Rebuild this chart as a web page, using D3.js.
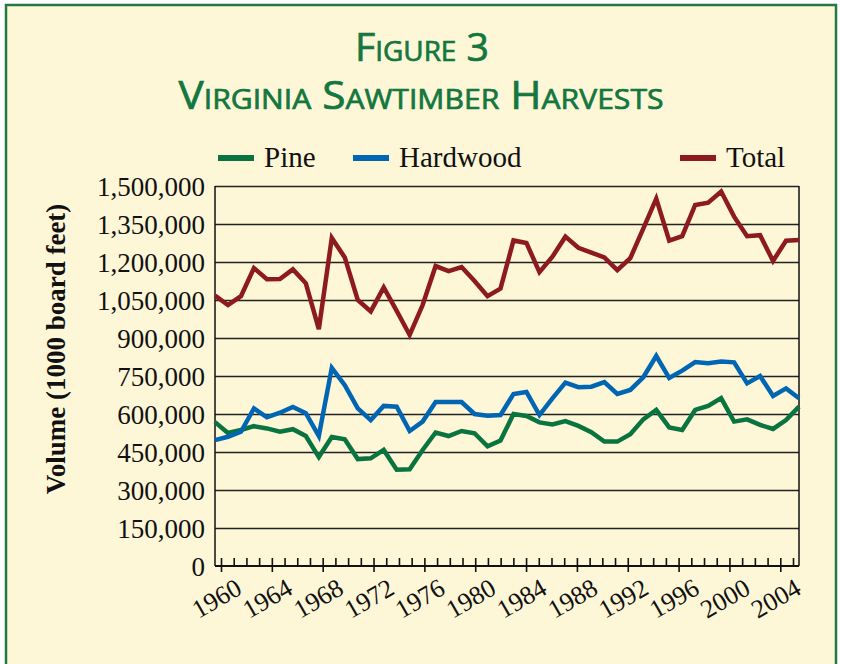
<!DOCTYPE html>
<html>
<head>
<meta charset="utf-8">
<script src="https://cdn.jsdelivr.net/npm/d3@7"></script>
<style>
  body { margin: 0; background: #fff; }
  svg { display: block; }
  .title { font-family: "Liberation Sans Narrow", "Open Sans", sans-serif; font-variant: small-caps; fill: #13773f; stroke: #13773f; stroke-width: 0.7px; }
  .axis text { font-family: "Liberation Serif", "DejaVu Serif", serif; fill: #111; }
  .legend text { font-family: "Liberation Serif", serif; font-size: 29px; fill: #111; }
</style>
</head>
<body>
<svg id="chart"></svg>
<script>
// years on the x axis
const years = [1960, 1961, 1962, 1963, 1964, 1965, 1966, 1967, 1968, 1969,
               1970, 1971, 1972, 1973, 1974, 1975, 1976, 1977, 1978, 1979,
               1980, 1981, 1982, 1983, 1984, 1985, 1986, 1987, 1988, 1989,
               1990, 1991, 1992, 1993, 1994, 1995, 1996, 1997, 1998, 1999,
               2000, 2001, 2002, 2003, 2004, 2005];
const labelYears = [1960, 1964, 1968, 1972, 1976, 1980, 1984, 1988, 1992, 1996, 2000, 2004];
const yTicks = [0, 150000, 300000, 450000, 600000, 750000, 900000, 1050000, 1200000, 1350000, 1500000];

// volume, 1000 board feet
const pine = [568000, 525000, 537000, 552000, 543000, 530000, 540000, 513000, 430000, 509000,
              500000, 422000, 425000, 458000, 380000, 382000, 458000, 527000, 513000, 533000,
              524000, 472000, 495000, 600000, 592000, 567000, 559000, 572000, 553000, 528000,
              491000, 491000, 520000, 579000, 616000, 547000, 537000, 616000, 632000, 663000,
              570000, 579000, 557000, 541000, 576000, 629000];
const hardwood = [497000, 510000, 530000, 622000, 587000, 605000, 628000, 603000, 513000, 782000,
                  714000, 622000, 576000, 632000, 629000, 533000, 570000, 647000, 647000, 647000,
                  600000, 593000, 596000, 679000, 687000, 596000, 662000, 724000, 706000, 708000,
                  726000, 679000, 695000, 745000, 829000, 742000, 771000, 805000, 800000, 807000,
                  804000, 721000, 750000, 671000, 701000, 662000];
const total = [1067000, 1030000, 1065000, 1176000, 1132000, 1133000, 1171000, 1116000, 935000, 1295000,
               1218000, 1050000, 1005000, 1100000, 1007000, 912000, 1030000, 1184000, 1164000, 1180000,
               1125000, 1065000, 1095000, 1285000, 1275000, 1160000, 1221000, 1300000, 1256000, 1237000,
               1218000, 1168000, 1215000, 1332000, 1450000, 1284000, 1302000, 1425000, 1434000, 1478000,
               1379000, 1302000, 1306000, 1204000, 1284000, 1287000];

const seriesNames = ['Pine', 'Hardwood', 'Total'];
const seriesColors = ['#0a7440', '#0066b3', '#8c1a1f'];

const W = 841, H = 664;
const margin = { top: 186, left: 215, right: 42, bottom: 98 };
const width = W - margin.left - margin.right;
const height = H - margin.top - margin.bottom;

const svg = d3.select('#chart').attr('width', W).attr('height', H);

// cream panel with green frame
svg.append('rect')
    .attr('x', 6).attr('y', 5)
    .attr('width', 830).attr('height', 700)
    .attr('fill', '#fdf6d7')
    .attr('stroke', '#1f7a45')
    .attr('stroke-width', 2.5);

svg.append('text').attr('class', 'title')
    .attr('x', 422).attr('y', 61)
    .attr('text-anchor', 'middle')
    .attr('font-size', 38)
    .attr('textLength', 134)
    .attr('lengthAdjust', 'spacingAndGlyphs')
    .text('Figure 3');
svg.append('text').attr('class', 'title')
    .attr('x', 421).attr('y', 109)
    .attr('text-anchor', 'middle')
    .attr('font-size', 38)
    .attr('textLength', 485)
    .attr('lengthAdjust', 'spacingAndGlyphs')
    .text('Virginia Sawtimber Harvests');

const chart = svg.append('g').attr('transform', `translate(${margin.left},${margin.top})`);

// data points run edge to edge, the tick marks sit slightly inside
const xScale = d3.scaleLinear().domain([1960, 2005]).range([0, width]);
const xTickScale = d3.scaleLinear().domain([1960, 2005]).range([6, width - 6]);
const yScale = d3.scaleLinear().domain([0, 1500000]).range([height, 0]);

// gridlines
chart.append('g')
    .attr('class', 'grid')
    .call(d3.axisLeft(yScale).tickValues(yTicks.slice(1)).tickSize(-width).tickFormat(''))
    .call(g => g.select('.domain').remove())
    .call(g => g.selectAll('line').attr('stroke', '#222').attr('stroke-width', 1.3));

// y labels
chart.append('g')
    .attr('class', 'axis y-axis')
    .call(d3.axisLeft(yScale).tickValues(yTicks).tickSize(0).tickPadding(10).tickFormat(d3.format(',')))
    .call(g => g.select('.domain').remove())
    .call(g => g.selectAll('text').attr('font-size', 27).attr('dy', '0.34em'));

// plot frame (left, right)
chart.append('line').attr('x1', 0).attr('x2', 0).attr('y1', 0).attr('y2', height)
    .attr('stroke', '#111').attr('stroke-width', 1.5);
chart.append('line').attr('x1', width).attr('x2', width).attr('y1', 0).attr('y2', height)
    .attr('stroke', '#111').attr('stroke-width', 1.5);

// minor ticks (every year, pointing up)
chart.append('g')
    .attr('transform', `translate(0,${height})`)
    .call(d3.axisBottom(xTickScale).tickValues(years).tickSize(-8).tickSizeOuter(0).tickFormat(''))
    .call(g => g.select('.domain').remove())
    .call(g => g.selectAll('line').attr('stroke', '#111').attr('stroke-width', 1.6));

// major ticks with labels
chart.append('g')
    .attr('class', 'axis x-axis')
    .attr('transform', `translate(0,${height})`)
    .call(d3.axisBottom(xTickScale).tickValues(labelYears).tickSize(6).tickFormat(d3.format('d')))
    .call(g => g.select('.domain').remove())
    .call(g => g.selectAll('line').attr('stroke', '#111').attr('stroke-width', 1.6))
    .call(g => g.selectAll('text')
        .attr('font-size', 26)
        .attr('text-anchor', 'end')
        .attr('dy', 0)
        .attr('transform', 'translate(22,27) rotate(-30)')
        .attr('y', 0).attr('x', 0));

chart.append('line').attr('x1', 0).attr('x2', width).attr('y1', height).attr('y2', height)
    .attr('stroke', '#111').attr('stroke-width', 2);

// y axis title
svg.append('text')
    .attr('transform', 'translate(65,349) rotate(-90)')
    .attr('text-anchor', 'middle')
    .attr('font-family', '"Liberation Serif", serif')
    .attr('font-weight', 'bold')
    .attr('font-size', 27)
    .attr('fill', '#111')
    .text('Volume (1000 board feet)');

// lines
const line = d3.line()
    .x((d, i) => xScale(years[i]))
    .y(d => yScale(d));

[pine, hardwood, total].forEach((s, k) => {
    chart.append('path')
        .datum(s)
        .attr('fill', 'none')
        .attr('stroke', seriesColors[k])
        .attr('stroke-width', 4.5)
        .attr('stroke-linejoin', 'miter')
        .attr('d', line);
});

// legend
const legendX = [218, 353, 680];
const legend = svg.append('g').attr('class', 'legend');
seriesNames.forEach((name, k) => {
    legend.append('line')
        .attr('x1', legendX[k]).attr('x2', legendX[k] + 36)
        .attr('y1', 158).attr('y2', 158)
        .attr('stroke', seriesColors[k]).attr('stroke-width', 6);
    legend.append('text')
        .attr('x', legendX[k] + 46).attr('y', 167)
        .text(name);
});
</script>
</body>
</html>
